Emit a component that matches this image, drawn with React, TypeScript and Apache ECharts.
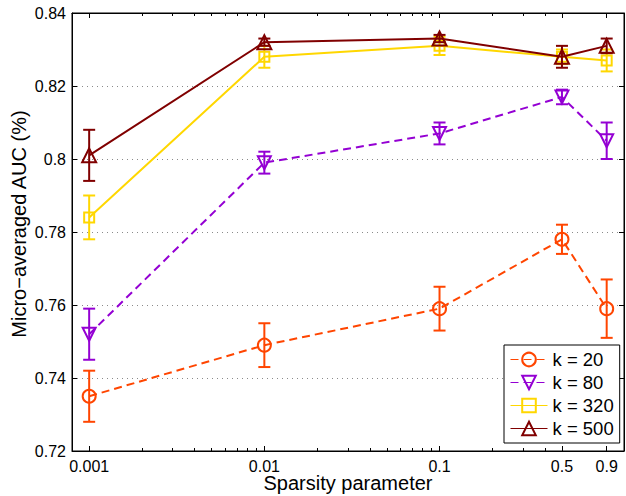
import React, { useEffect, useRef } from 'react';
import * as echarts from 'echarts';

const sparsity = [0.001, 0.01, 0.1, 0.5, 0.9];
const seriesNames = ['k = 20', 'k = 80', 'k = 320', 'k = 500'];
const auc20 = [0.735, 0.749, 0.759, 0.778, 0.759];
const err20 = [0.007, 0.006, 0.006, 0.004, 0.008];
const auc80 = [0.752, 0.799, 0.807, 0.817, 0.805];
const err80 = [0.007, 0.003, 0.003, 0.002, 0.005];
const auc320 = [0.784, 0.828, 0.831, 0.828, 0.827];
const err320 = [0.006, 0.003, 0.0025, 0.002, 0.003];
const auc500 = [0.801, 0.832, 0.833, 0.828, 0.831];
const err500 = [0.007, 0.001, 0.001, 0.003, 0.002];
const xMajorTicks = [0.001, 0.01, 0.1, 0.5, 0.9];
const xTickLabels = ['0.001', '0.01', '0.1', '0.5', '0.9'];
const xMinorTicks = [
  0.002, 0.003, 0.004, 0.005, 0.006, 0.007, 0.008, 0.009,
  0.02, 0.03, 0.04, 0.05, 0.06, 0.07, 0.08, 0.09,
  0.2, 0.3, 0.4,
];
const yMin = 0.72;
const yMax = 0.84;
const yStep = 0.02;
const xMin = 0.000798;
const xMax = 1.13;

const colors = ['#FF4500', '#9400D3', '#FFD700', '#800000'];
const symbols = ['circle', 'path://M0,0L10,0L5,10Z', 'rect', 'triangle'];
const symbolSizes = [13, 13, 10, 14];
const dashed = [true, true, false, false];
const means = [auc20, auc80, auc320, auc500];
const errs = [err20, err80, err320, err500];

const FONT = 'Liberation Sans, Arial, Helvetica, sans-serif';

export default function App() {
  const ref = useRef<HTMLDivElement>(null);
  useEffect(() => {
    if (!ref.current) return;
    const chart = echarts.init(ref.current, undefined, { renderer: 'svg' });

    const series: any[] = [];
    means.forEach((m, i) => {
      const c = colors[i];
      series.push({
        name: 'err' + i,
        type: 'custom',
        xAxisIndex: 0,
        yAxisIndex: 0,
        z: 2 + i,
        silent: true,
        data: sparsity.map((x, j) => [x, m[j] - errs[i][j], m[j] + errs[i][j]]),
        encode: { x: 0, y: [1, 2] },
        renderItem: (params: any, api: any) => {
          const x = api.value(0);
          const lo = api.value(1);
          const hi = api.value(2);
          const pTop = api.coord([x, hi]);
          const pBot = api.coord([x, lo]);
          const w = 6;
          const st = { stroke: c, lineWidth: 2, fill: null };
          return {
            type: 'group',
            children: [
              { type: 'line', shape: { x1: pTop[0], y1: pTop[1], x2: pBot[0], y2: pBot[1] }, style: st },
              { type: 'line', shape: { x1: pTop[0] - w, y1: pTop[1], x2: pTop[0] + w, y2: pTop[1] }, style: st },
              { type: 'line', shape: { x1: pBot[0] - w, y1: pBot[1], x2: pBot[0] + w, y2: pBot[1] }, style: st },
            ],
          };
        },
      });
      series.push({
        name: seriesNames[i],
        type: 'line',
        xAxisIndex: 0,
        yAxisIndex: 0,
        z: 2 + i,
        data: sparsity.map((x, j) => [x, m[j]]),
        symbol: symbols[i],
        symbolSize: symbolSizes[i],
        symbolKeepAspect: true,
        showAllSymbol: true,
        lineStyle: { color: c, width: 2, type: dashed[i] ? [8, 5] : 'solid' },
        itemStyle: { color: 'rgba(255,255,255,0)', borderColor: c, borderWidth: 2 },
        emphasis: { disabled: true },
      });
    });

    const labelFmt = (v: number) => {
      let best = 0;
      let bd = Infinity;
      xMajorTicks.forEach((t, k) => {
        const d = Math.abs(Math.log10(t) - Math.log10(v));
        if (d < bd) { bd = d; best = k; }
      });
      return xTickLabels[best];
    };

    const baseX = {
      type: 'log',
      logBase: 10,
      min: xMin,
      max: xMax,
      gridIndex: 0,
      splitLine: { show: false },
      minorTick: { show: false },
    };

    chart.setOption({
      animation: false,
      backgroundColor: '#fff',
      textStyle: { fontFamily: FONT },
      grid: {
        left: 72, right: 2, top: 13, bottom: 45,
        outerBoundsMode: 'none',
        containLabel: false,
        show: true, borderColor: '#000', borderWidth: 1, backgroundColor: 'transparent',
      },
      legend: {
        data: seriesNames,
        orient: 'vertical',
        left: 504,
        top: 345,
        padding: [5, 6, 5, 6],
        itemGap: 4,
        itemWidth: 37,
        itemHeight: 17,
        backgroundColor: '#fff',
        borderColor: '#000',
        borderWidth: 1,
        textStyle: { fontFamily: FONT, fontSize: 18.5, color: '#000' },
        lineStyle: { width: 1 },
        z: 20,
      },
      xAxis: [
        {
          ...baseX,
          position: 'bottom',
          name: 'Sparsity parameter',
          nameLocation: 'middle',
          nameGap: 22,
          nameMoveOverlap: false,
          nameTextStyle: { fontFamily: FONT, fontSize: 20, color: '#000' },
          axisLine: { show: true, lineStyle: { color: '#000', width: 1 } },
          axisTick: { show: true, inside: true, length: 5, customValues: xMajorTicks, lineStyle: { color: '#000' } },
          axisLabel: {
            show: true, customValues: xMajorTicks, formatter: labelFmt,
            fontFamily: FONT, fontSize: 16, color: '#000', margin: 7,
          },
        },
        {
          ...baseX,
          position: 'bottom',
          axisLine: { show: false },
          axisTick: { show: true, inside: true, length: 3, customValues: xMinorTicks, lineStyle: { color: '#000' } },
          axisLabel: { show: false },
        },
        {
          ...baseX,
          position: 'top',
          axisLine: { show: true, lineStyle: { color: '#000', width: 1 } },
          axisTick: { show: true, inside: true, length: 5, customValues: xMajorTicks, lineStyle: { color: '#000' } },
          axisLabel: { show: false },
        },
        {
          ...baseX,
          position: 'top',
          axisLine: { show: false },
          axisTick: { show: true, inside: true, length: 3, customValues: xMinorTicks, lineStyle: { color: '#000' } },
          axisLabel: { show: false },
        },
      ],
      yAxis: [
        {
          type: 'value',
          position: 'left',
          min: yMin,
          max: yMax,
          interval: yStep,
          name: 'Micro−averaged AUC (%)',
          nameLocation: 'middle',
          nameGap: 43,
          nameMoveOverlap: false,
          nameTextStyle: { fontFamily: FONT, fontSize: 20, color: '#000', padding: [0, 0, 0, 16] },
          axisLine: { show: true, lineStyle: { color: '#000', width: 1 } },
          axisTick: { show: true, inside: true, length: 5, lineStyle: { color: '#000' } },
          axisLabel: { fontFamily: FONT, fontSize: 16, color: '#000', margin: 6 },
          splitLine: { show: true, lineStyle: { color: '#8a8a8a', type: [1, 4], width: 1 } },
        },
        {
          type: 'value',
          position: 'right',
          min: yMin,
          max: yMax,
          interval: yStep,
          axisLine: { show: true, lineStyle: { color: '#000', width: 1 } },
          axisTick: { show: true, inside: true, length: 5, lineStyle: { color: '#000' } },
          axisLabel: { show: false },
          splitLine: { show: false },
        },
      ],
      series,
    });

    return () => {
      chart.dispose();
    };
  }, []);

  return (
    <div
      ref={ref}
      style={{ position: 'fixed', left: 0, top: 0, width: 626, height: 496, background: '#fff' }}
    />
  );
}
